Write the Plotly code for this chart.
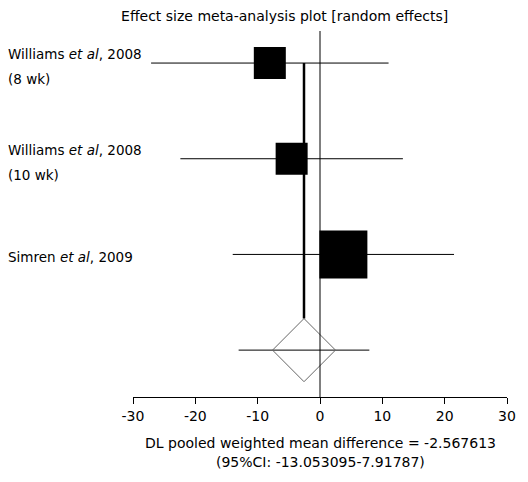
import plotly.graph_objects as go

# ---- data ----
study_names = ["Williams <i>et al</i>, 2008",
               "Williams <i>et al</i>, 2008",
               "Simren <i>et al</i>, 2009"]
study_notes = ["(8 wk)", "(10 wk)", ""]
effects = [-8.05, -4.55, 3.75]
ci_low = [-27.1, -22.4, -14.0]
ci_high = [11.0, 13.3, 21.5]
pooled = -2.567613
pooled_low = -13.053095
pooled_high = 7.91787
x_ticks = [-30, -20, -10, 0, 10, 20, 30]

# ---- style ----
FONT = "DejaVu Sans"
square_sizes = [32, 32, 48]
DIAMOND_HALF_W = 5.05
DIAMOND_HALF_H = 0.33

rows = list(range(len(study_names)))
pooled_row = len(study_names)

fig = go.Figure()

# CI lines (studies + pooled)
cx, cy = [], []
for r, lo, hi in zip(rows, ci_low, ci_high):
    cx += [lo, hi, None]
    cy += [r, r, None]
cx += [pooled_low, pooled_high, None]
cy += [pooled_row, pooled_row, None]
fig.add_trace(go.Scatter(x=cx, y=cy, mode="lines",
                         line=dict(color="black", width=1), hoverinfo="skip"))

# pooled vertical line
fig.add_trace(go.Scatter(x=[pooled, pooled], y=[rows[0], pooled_row - DIAMOND_HALF_H],
                         mode="lines", line=dict(color="black", width=2.5),
                         hoverinfo="skip"))

# squares
fig.add_trace(go.Scatter(x=effects, y=rows, mode="markers",
                         marker=dict(symbol="square", size=square_sizes, color="black",
                                     opacity=1, line=dict(width=0))))

# diamond
fig.add_trace(go.Scatter(
    x=[pooled - DIAMOND_HALF_W, pooled, pooled + DIAMOND_HALF_W, pooled, pooled - DIAMOND_HALF_W],
    y=[pooled_row, pooled_row - DIAMOND_HALF_H, pooled_row, pooled_row + DIAMOND_HALF_H, pooled_row],
    mode="lines", line=dict(color="#666666", width=1), hoverinfo="skip"))

# zero line
fig.add_shape(type="line", xref="x", yref="paper", x0=0, x1=0, y0=0, y1=1,
              line=dict(color="black", width=1))

# study labels
lab_font = dict(family=FONT, size=13.5, color="black")
for r, name, note in zip(rows, study_names, study_notes):
    if note:
        fig.add_annotation(text=name, xref="paper", yref="y", x=0, y=r, xanchor="left",
                           yanchor="middle", xshift=-126, yshift=9, borderpad=0,
                           showarrow=False, font=lab_font)
        fig.add_annotation(text=note, xref="paper", yref="y", x=0, y=r, xanchor="left",
                           yanchor="middle", xshift=-126, yshift=-16, borderpad=0,
                           showarrow=False, font=lab_font)
    else:
        fig.add_annotation(text=name, xref="paper", yref="y", x=0, y=r, xanchor="left",
                           yanchor="middle", xshift=-126, yshift=-3, borderpad=0,
                           showarrow=False, font=lab_font)

# axis title lines
fig.add_annotation(text="DL pooled weighted mean difference = -2.567613",
                   xref="paper", yref="paper", x=0.5, y=0, yanchor="middle",
                   yshift=-46, showarrow=False,
                   font=dict(family=FONT, size=14, color="black"))
fig.add_annotation(text="(95%CI: -13.053095-7.91787)",
                   xref="paper", yref="paper", x=0.5, y=0, yanchor="middle",
                   yshift=-65, showarrow=False,
                   font=dict(family=FONT, size=14, color="black"))

# page body has an 8px margin: figure is sized/placed to compensate
fig.update_layout(
    width=520, height=474,
    margin=dict(l=125, r=18, t=23, b=85),
    paper_bgcolor="white", plot_bgcolor="white",
    showlegend=False,
    title=dict(text="Effect size meta-analysis plot [random effects]",
               x=0.532, xanchor="center", xref="container",
               y=1 - 8 / 474, yanchor="middle", yref="container",
               font=dict(family=FONT, size=14, color="black")),
    xaxis=dict(range=[-30, 30], tickvals=x_ticks, ticktext=[str(t) for t in x_ticks],
               showgrid=False, zeroline=False, showline=True, linecolor="black",
               linewidth=1, ticks="outside", ticklen=6, tickcolor="black",
               tickfont=dict(family=FONT, size=14, color="black"), fixedrange=True),
    yaxis=dict(range=[3.49, -0.335], showgrid=False, zeroline=False, showline=False,
               showticklabels=False, ticks="", fixedrange=True),
)

fig.write_html("out.html")
